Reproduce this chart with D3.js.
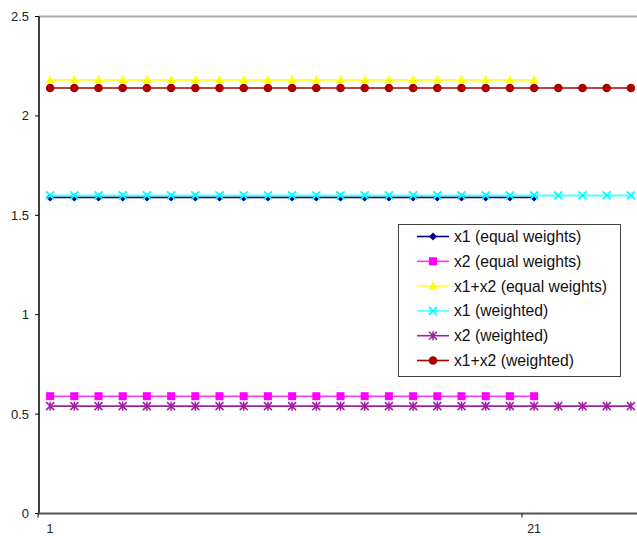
<!DOCTYPE html>
<html>
<head>
<meta charset="utf-8">
<script src="https://cdn.jsdelivr.net/npm/d3@7"></script>
<style>
  body { margin: 0; background: #fff; }
  svg { display: block; font-family: "Liberation Sans", Arial, sans-serif; }
</style>
</head>
<body>
<div id="chart"></div>
<script>
// Categories along the x axis
const categories = [1, 2, 3, 4, 5, 6, 7, 8, 9, 10, 11, 12, 13, 14, 15, 16, 17, 18, 19, 20, 21, 22, 23, 24, 25];
const xTickLabels = [1, 21];
const yTicks = [0, 0.5, 1, 1.5, 2, 2.5];

// Series values (equal weights: 21 points, weighted: 25 points)
const x1Equal = [1.59, 1.59, 1.59, 1.59, 1.59, 1.59, 1.59, 1.59, 1.59, 1.59, 1.59, 1.59, 1.59, 1.59, 1.59, 1.59, 1.59, 1.59, 1.59, 1.59, 1.59];
const x2Equal = [0.59, 0.59, 0.59, 0.59, 0.59, 0.59, 0.59, 0.59, 0.59, 0.59, 0.59, 0.59, 0.59, 0.59, 0.59, 0.59, 0.59, 0.59, 0.59, 0.59, 0.59];
const sumEqual = [2.18, 2.18, 2.18, 2.18, 2.18, 2.18, 2.18, 2.18, 2.18, 2.18, 2.18, 2.18, 2.18, 2.18, 2.18, 2.18, 2.18, 2.18, 2.18, 2.18, 2.18];
const x1Weighted = [1.60, 1.60, 1.60, 1.60, 1.60, 1.60, 1.60, 1.60, 1.60, 1.60, 1.60, 1.60, 1.60, 1.60, 1.60, 1.60, 1.60, 1.60, 1.60, 1.60, 1.60, 1.60, 1.60, 1.60, 1.60];
const x2Weighted = [0.54, 0.54, 0.54, 0.54, 0.54, 0.54, 0.54, 0.54, 0.54, 0.54, 0.54, 0.54, 0.54, 0.54, 0.54, 0.54, 0.54, 0.54, 0.54, 0.54, 0.54, 0.54, 0.54, 0.54, 0.54];
const sumWeighted = [2.14, 2.14, 2.14, 2.14, 2.14, 2.14, 2.14, 2.14, 2.14, 2.14, 2.14, 2.14, 2.14, 2.14, 2.14, 2.14, 2.14, 2.14, 2.14, 2.14, 2.14, 2.14, 2.14, 2.14, 2.14];

const series = [
  { name: "x1 (equal weights)", values: x1Equal, color: "#000080", line: "#000080", marker: "diamond" },
  { name: "x2 (equal weights)", values: x2Equal, color: "#ff00ff", line: "#ff33ff", marker: "square" },
  { name: "x1+x2 (equal weights)", values: sumEqual, color: "#ffff00", line: "#ffff44", marker: "triangle" },
  { name: "x1 (weighted)", values: x1Weighted, color: "#00ffff", line: "#55ffff", marker: "cross" },
  { name: "x2 (weighted)", values: x2Weighted, color: "#a020a0", line: "#a020a0", marker: "star" },
  { name: "x1+x2 (weighted)", values: sumWeighted, color: "#aa0000", line: "#aa0000", marker: "circle" }
];

const width = 637, height = 536;

const svg = d3.select("#chart")
  .append("svg")
  .attr("width", width)
  .attr("height", height);

const x = d3.scaleBand()
  .domain(categories)
  .range([38, 643])
  .padding(0);

const y = d3.scaleLinear()
  .domain([0, 2.5])
  .range([513.5, 16.5]);

const cx = c => x(c) + x.bandwidth() / 2;

// plot area top border
svg.append("line")
  .attr("x1", 39).attr("x2", width)
  .attr("y1", y(2.5)).attr("y2", y(2.5))
  .attr("stroke", "#aaaaaa")
  .attr("stroke-width", 2);

// y axis
svg.append("line")
  .attr("x1", 39).attr("x2", 39)
  .attr("y1", y(2.5)).attr("y2", y(0))
  .attr("stroke", "#000")
  .attr("stroke-width", 1.5);

svg.selectAll(".ytick")
  .data(yTicks)
  .enter()
  .append("line")
  .attr("x1", 35).attr("x2", 39)
  .attr("y1", d => y(d)).attr("y2", d => y(d))
  .attr("stroke", "#000");

svg.selectAll(".ylabel")
  .data(yTicks)
  .enter()
  .append("text")
  .attr("x", 29)
  .attr("y", d => y(d))
  .attr("dy", "0.35em")
  .attr("text-anchor", "end")
  .attr("font-size", 13)
  .attr("fill", "#222")
  .text(d => d);

// x axis
svg.append("line")
  .attr("x1", 38).attr("x2", width)
  .attr("y1", y(0)).attr("y2", y(0))
  .attr("stroke", "#555")
  .attr("stroke-width", 2);

svg.selectAll(".xtick")
  .data(xTickLabels)
  .enter()
  .append("line")
  .attr("x1", d => x(d)).attr("x2", d => x(d))
  .attr("y1", y(0)).attr("y2", y(0) + 4)
  .attr("stroke", "#000");

svg.selectAll(".xlabel")
  .data(xTickLabels)
  .enter()
  .append("text")
  .attr("x", d => cx(d))
  .attr("y", 533)
  .attr("text-anchor", "middle")
  .attr("font-size", 12.5)
  .attr("fill", "#222")
  .text(d => d);

// marker drawing
function drawMarker(g, type, color) {
  if (type === "diamond") {
    g.append("path").attr("d", "M0,-4L4,0L0,4L-4,0Z").attr("fill", color);
  } else if (type === "square") {
    g.append("rect").attr("x", -4).attr("y", -4).attr("width", 8).attr("height", 8).attr("fill", color);
  } else if (type === "triangle") {
    g.append("path").attr("d", "M0,-5L4.5,3.5L-4.5,3.5Z").attr("fill", color);
  } else if (type === "cross") {
    g.append("path").attr("d", "M-4,-4L4,4M-4,4L4,-4")
      .attr("stroke", color).attr("stroke-width", 1.8).attr("fill", "none");
  } else if (type === "star") {
    g.append("path").attr("d", "M-4,-4L4,4M-4,4L4,-4M0,-4.5L0,4.5")
      .attr("stroke", color).attr("stroke-width", 1.5).attr("fill", "none");
  } else if (type === "circle") {
    g.append("circle").attr("r", 4.3).attr("fill", color);
  }
}

const line = d3.line()
  .x((d, i) => cx(categories[i]))
  .y(d => y(d));

series.forEach(s => {
  svg.append("path")
    .datum(s.values)
    .attr("d", line)
    .attr("fill", "none")
    .attr("stroke", s.line)
    .attr("stroke-width", s.marker === "cross" || s.marker === "triangle" ? 2 : 1.6);

  svg.selectAll(null)
    .data(s.values)
    .enter()
    .append("g")
    .attr("transform", (d, i) => `translate(${cx(categories[i])},${y(d)})`)
    .each(function () { drawMarker(d3.select(this), s.marker, s.color); });
});

// legend
const legend = svg.append("g");
legend.append("rect")
  .attr("x", 398.5).attr("y", 224.5)
  .attr("width", 222).attr("height", 152)
  .attr("fill", "#fff")
  .attr("stroke", "#444")
  .attr("stroke-width", 1);

series.forEach((s, i) => {
  const ly = 236.5 + i * 24.8;
  legend.append("line")
    .attr("x1", 417).attr("x2", 449)
    .attr("y1", ly).attr("y2", ly)
    .attr("stroke", s.line)
    .attr("stroke-width", 1.6);
  const m = legend.append("g").attr("transform", `translate(433,${ly})`);
  drawMarker(m, s.marker, s.color);
  legend.append("text")
    .attr("x", 454)
    .attr("y", ly)
    .attr("dy", "0.35em")
    .attr("font-size", 15.7)
    .attr("fill", "#111")
    .text(s.name);
});
</script>
</body>
</html>
